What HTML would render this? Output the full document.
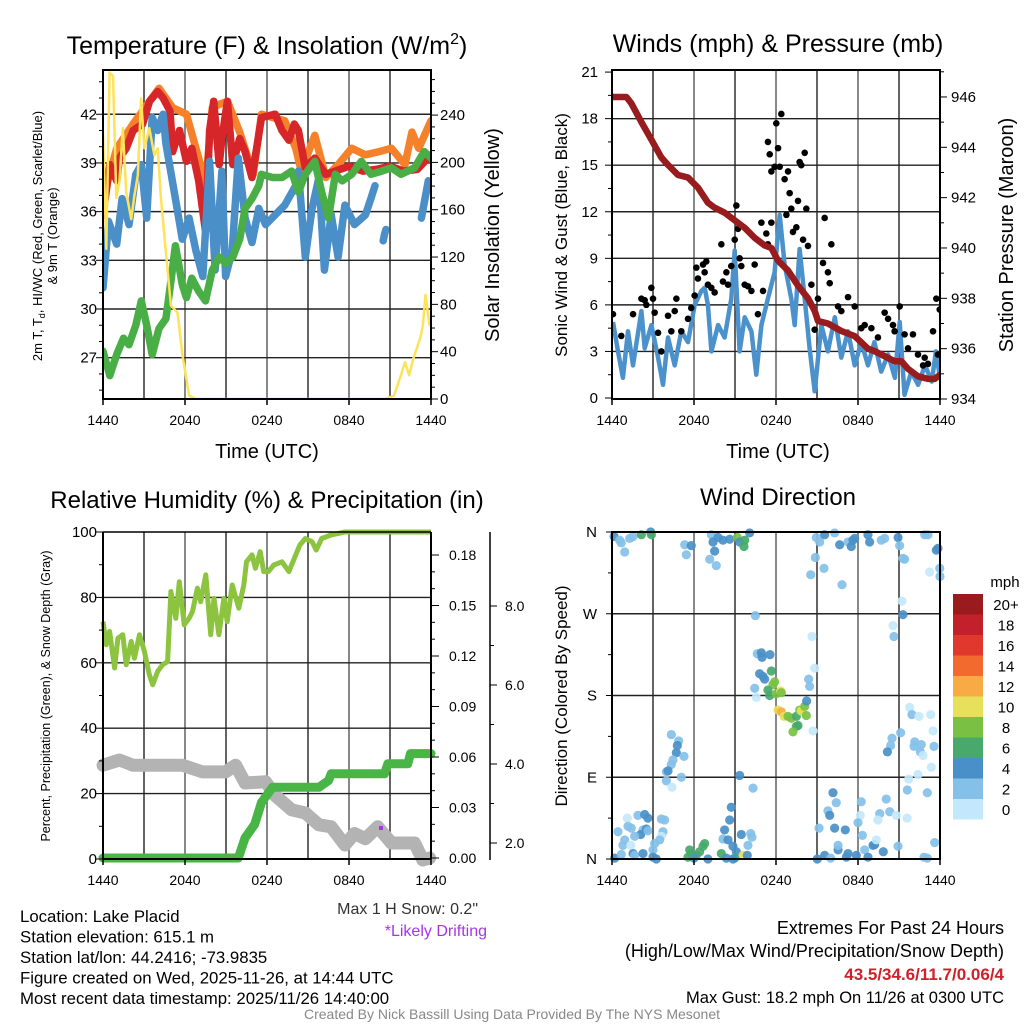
<!DOCTYPE html>
<html><head><meta charset="utf-8">
<style>
html,body{margin:0;padding:0;background:#fff;}
svg{display:block;font-family:"Liberation Sans",Arial,sans-serif;}
</style></head>
<body>
<svg id="chart" width="1024" height="1024" viewBox="0 0 1024 1024" xmlns="http://www.w3.org/2000/svg">
<g id="layer"></g>
</svg>
<script>
// ---------- Panel 1: temperature ----------
const redT=[0,0.5,1,1.2,1.7,2.2,2.9,3.4,4.0,4.4,4.9,5.1,5.6,6.1,6.5,7.0,7.5,7.8,8.1,8.5,8.7,9.1,9.5,10.0,10.4,10.9,11.2,11.6,12.6,13.1,13.6,14.0,14.3,14.8,15.5,16.3,17,18,19,20,21,22,23,24];
const redV=[35.8,38.9,37.9,39.3,39.9,41,41.4,42.8,43.4,43,42.2,39.7,41,39.1,39.9,37.9,34.8,41,42.8,38.9,40.5,42.8,38.9,40.5,39.7,38.1,39.7,41.8,42,41,40.4,41.4,41,38.7,39.3,38.3,38.5,38.8,38.5,38.6,38.8,38.5,38.6,39.5];
const orangeT=[0,1,2.2,4.1,5.1,6.1,7.0,7.5,8.0,8.5,9.1,10.0,11.0,11.6,12.4,13.3,14.1,14.5,15.5,16.3,17.2,18.2,19.2,20.2,21.1,22.1,22.6,23.1,24];
const orangeV=[36.8,39.9,41.4,43.6,42.4,42,39.3,37.6,42.4,42.6,42.8,40.9,38.3,42,41.8,41.6,39.9,38.5,40.7,38.1,38.9,39.9,39.5,39.7,39.9,38.9,40.9,39.9,41.6];
const blueT=[0,0.4,1,1.4,1.9,2.4,2.8,3.2,3.6,4.0,4.4,4.6,5.3,5.8,6.3,6.8,7.3,7.8,8.2,8.7,8.97,9.45,9.9,10.4,10.9,11.4,11.9,12.6,13.3,14.1,14.3,14.8,15.3,15.8,16.2,16.7,17.2,17.7,18.4,19.2,19.6,19.9,20.0,20.5,20.6,20.7,23.2,23.3,23.8];
const blueV=[31.3,35.4,34,36.8,35.2,38.3,38.9,35.6,41.8,41,42,40.2,36.8,34.3,35.6,33.6,32,39.1,32.4,38.5,32,33.6,39.3,35.6,34.1,36.2,35.2,35.8,36.4,37.6,38.5,33.2,36.2,38.1,32.4,35.8,33.2,36.4,35.2,35.8,36.8,37.6,null,34.2,34.6,34.9,null,35.6,37.9];
const greenT=[0,0.5,1,1.5,1.9,2.4,2.8,3.2,3.6,4.1,4.6,5,5.3,5.8,6.1,6.5,7.0,7.5,8.0,8.5,9.0,9.5,10.0,10.4,10.9,11.4,11.6,12.4,13.1,13.8,14.3,14.8,15.5,16,16.5,17,17.5,18.2,18.9,19.6,20.4,21.1,21.8,22.8,23.5,24];
const greenV=[27.4,25.9,27.2,28.2,27.8,29,30.5,29,27.2,28.8,29.4,31.9,33.9,31.5,30.7,31.9,31.1,30.5,32.4,33.2,32.8,33.2,34.3,36.2,36.8,37.6,38.3,38.1,38.1,38.5,37.2,38.3,39.1,37.2,35.6,38.3,37.9,38.3,39.1,38.3,38.5,38.7,38.3,38.7,39.7,39.3];
const solarT=[0,0.24,0.48,0.73,0.97,1.21,1.45,1.7,2.06,2.3,2.55,2.79,3.03,3.39,3.76,4.0,4.24,4.6,4.97,5.45,5.82,6.3,6.8,20.6,21.3,21.8,22.1,22.4,22.7,23.2,23.4,23.6,23.9];
const solarV=[226,127,276,273,170,184,229,175,152,172,189,254,212,229,206,212,170,124,79,73,37,3,0,0,3,20,31,20,34,51,62,88,62];
const tempTicks=[27,30,33,36,39,42];
const solarTicks=[0,40,80,120,160,200,240];
const timeLabels=["1440","2040","0240","0840","1440"];
// ---------- Panel 2: winds ----------
const windT=[0.07,0.44,0.8,1.17,1.54,2.15,2.39,2.88,3.37,3.73,4.1,4.59,5.07,5.56,6.05,6.54,6.78,7.02,7.27,7.76,8.24,8.73,8.98,9.34,9.71,10.2,10.56,10.93,11.41,11.9,12.27,12.63,13.12,13.37,13.73,14.1,14.46,14.83,15.32,15.8,16.3,16.78,17.27,17.76,18.24,18.73,19.2,19.7,20.2,20.7,21.05,21.4,21.9,22.4,22.9,23.4,23.7,24];
const windV=[4.9,3.0,1.3,4.3,2.1,5.6,3.2,4.7,2.6,0.85,3.9,2.1,4.3,3.6,6.0,6.9,7.1,6.0,3.0,4.7,3.9,6.4,9.5,3.0,5.2,4.3,1.5,4.7,6.4,8.1,11.8,8.6,6.4,4.7,9.6,6.4,3.2,0.43,4.7,3.0,5.2,2.6,4.3,2.1,3.6,2.1,3.6,1.7,2.8,1.3,4.9,0.2,1.7,0.85,2.1,1.06,3.0,1.3];
const gustT=[0.07,0.68,1.54,2.15,2.39,2.51,2.88,3.0,3.12,3.37,3.61,4.1,4.34,4.59,4.71,5.07,5.56,5.8,6.05,6.17,6.29,6.66,6.78,6.9,7.02,7.27,7.51,8.0,8.12,8.37,8.49,8.73,8.98,9.1,9.22,9.34,9.46,9.71,9.95,10.2,10.44,10.68,10.93,11.05,11.29,11.41,11.66,11.9,12.02,12.15,12.27,12.39,11.41,11.54,11.66,12.63,12.76,12.88,13.0,13.12,13.24,13.49,13.61,13.73,13.85,14.1,14.22,14.34,13.98,14.59,14.83,15.07,15.44,15.56,15.8,15.93,16.05,16.54,16.78,17.27,17.76,18.24,18.49,18.98,19.46,19.95,20.2,20.56,20.68,21.05,21.41,21.66,22.02,22.39,22.88,23.12,23.49,23.73,23.98,23.85,22.76];
const gustV=[5.4,4.0,5.4,6.4,6.3,6.0,7.1,6.4,5.5,4.2,3.0,5.3,4.3,5.6,6.4,4.3,5.1,5.8,6.6,8.4,7.7,8.6,8.1,8.8,7.3,7.1,6.8,9.9,7.5,8.1,7.3,8.5,10.2,12.4,10.9,9.0,8.5,7.3,7.2,6.9,8.6,5.4,11.3,6.9,10.6,9.9,11.3,14.9,17.7,16.1,14.9,18.3,16.5,15.7,14.6,14.1,11.8,14.6,13.2,12.2,10.7,11.0,12.7,15.2,15.0,15.8,12.2,9.8,10.2,7.3,4.4,6.4,8.7,11.6,8.1,7.4,9.9,5.9,5.6,6.5,5.9,4.5,4.7,4.5,3.9,5.5,5.1,4.7,4.3,5.9,4.1,3.2,4.1,2.8,2.6,2.2,4.3,6.4,5.7,2.8,2.1];
const presT=[0,1.05,1.41,2.15,2.88,3.61,4.1,4.83,5.56,6.29,7.02,7.51,8.24,8.98,9.71,10.44,11.17,11.66,12.15,12.88,13.61,14.34,14.83,15.07,15.8,16.78,17.76,18.73,19.22,19.95,20.68,21.17,21.66,22.39,23.12,23.61,23.98];
const presV=[946.0,946.0,945.75,945.0,944.3,943.6,943.3,942.9,942.8,942.4,941.8,941.6,941.4,941.1,940.8,940.4,940.1,940.0,939.5,939.1,938.5,938.0,937.5,937.1,937.0,936.7,936.5,936.0,935.9,935.7,935.5,935.5,935.2,934.9,934.8,934.8,934.95];
const windTicks=[0,3,6,9,12,15,18,21];
const presTicks=[934,936,938,940,942,944,946];
// ---------- Panel 3: RH / precip / snow ----------
const rhT=[0,0.24,0.48,0.85,1.09,1.45,1.7,2.06,2.3,2.67,3.03,3.39,3.64,4.0,4.36,4.73,4.97,5.33,5.58,5.94,6.3,6.55,6.91,7.15,7.52,7.88,8.12,8.48,8.85,9.09,9.45,9.94,10.3,10.5,10.9,11.15,11.5,11.76,12.1,12.5,13.1,13.6,14.1,14.4,14.8,15.3,15.6,16.0,16.7,17.7,24];
const rhV=[72.6,65.5,69.6,58.4,67.5,68.6,59.4,66.5,61.4,68.6,63.5,56.4,53.3,57.4,59.4,60.4,81.8,73.6,84.8,71.6,73.6,75.7,82.8,78.7,86.9,68.6,79.7,68.6,79.7,72.6,83.8,76.7,83.8,90.9,93.0,88.9,94.0,87.9,87.9,89.9,90.9,87.9,93.0,96.0,98.0,97.0,94.5,98.0,99.1,100,100];
const precipT=[0,9.9,10.4,11.1,11.6,12.4,15.8,16.5,16.7,20.6,20.85,22.3,22.5,24];
const precipV=[0,0,0.012,0.02,0.033,0.042,0.042,0.046,0.05,0.05,0.056,0.056,0.062,0.062];
const snowT=[0,1.21,2.18,5.82,7.27,8.97,9.7,10.4,11.9,12.6,13.8,14.8,15.8,16.7,17.7,18.4,19.2,20.1,21.1,22.8,23.4,23.9];
const snowV=[3.97,4.1,3.97,3.97,3.8,3.8,3.97,3.52,3.55,3.2,2.84,2.76,2.46,2.41,1.95,2.24,2.11,2.41,2.0,2.0,1.57,1.62];
const rhTicks=[0,20,40,60,80,100];
const precipTicks=[0,0.03,0.06,0.09,0.12,0.15,0.18];
const snowTicks=[2,4,6,8];
// ---------- Panel 4: wind direction ----------
const dirT=[0.15,0.56,0.68,0.93,1.29,1.54,2.15,2.83,2.88,5.32,5.44,5.8,7.27,7.39,7.76,8.12,7.51,7.15,7.63,8.61,9.17,9.34,9.71,9.66,10.07,14.95,15.2,15.56,16.29,16.66,17.27,17.51,17.76,17.63,18.73,18.85,19.7,19.95,20.93,21.05,22.88,23.12,23.73,23.85,23.98,24,23.24,21.41,21.29,14.88,15.51,14.54,16.83,21.22,21.29,10.49,14.63,14.83,20.56,20.63,10.63,10.93,10.98,11.56,10.8,11.05,11.17,11.66,11.9,11.78,10.44,10.56,11.41,11.54,12.02,12.34,12.39,14.39,14.46,12.15,12.39,12.59,12.88,13.12,13.49,13.73,13.85,14.1,14.22,14.24,13.61,13.49,13.24,14.71,4.34,4.88,4.78,4.71,5.27,4.46,4.34,3.98,4.1,5.07,3.98,4.39,21.12,20.49,20.39,20.15,21.78,21.95,22.46,23.32,22.15,22.1,22.63,22.56,22.76,23.49,23.56,23.37,22.39,21.71,21.61,9.34,10.32,16.17,16.41,15.8,15.93,16.29,17.07,15.15,18.24,18.17,18.0,18.32,20.07,20.32,19.59,19.46,20.8,21.59,23.07,23.61,20.93,19.22,19.1,19.34,19.85,18.49,17.88,17.27,17.15,16.54,15.56,15.02,16.0,18.73,22.83,23.07,16.54,1.12,1.9,2.39,2.63,1.17,1.41,2.27,2.51,2.1,1.66,2.63,3.61,3.85,3.73,3.61,3.49,3.12,3.0,0.93,0.8,1.37,0.44,0.2,0.68,1.54,1.66,2.27,3.0,3.24,8.73,8.61,8.24,8.12,8.49,9.46,10.15,10.24,9.95,8.85,9.1,9.59,9.9,8.0,7.02,6.78,6.66,6.41,6.17,5.8,5.68,6.0,5.56,8.37,8.98,8.85];
const dirV=[355,351,348,338,353,355,357,360,357,346,335,345,357,349,354,351,339,330,323,352,354,349,351,344,359,354,349,357,359,346,349,344,353,351,357,349,351,353,354,345,357,357,340,342,320,311,316,330,331,332,320,313,302,284,269,268,245,210,257,245,226,227,222,225,204,201,198,207,195,192,188,178,186,180,182,185,183,198,190,164,162,157,157,155,157,164,163,168,158,174,147,146,140,141,137,130,125,117,113,109,104,96,97,90,86,79,139,133,125,118,167,159,157,159,129,124,126,118,114,141,124,101,93,88,76,92,78,73,62,53,48,34,32,34,63,48,40,26,66,52,50,43,48,45,73,18,14,16,15,21,8,10,4,6,2,10,4,0,1,2,2,1,15,45,48,49,45,36,34,32,33,27,25,31,44,43,30,25,21,17,10,21,15,15,30,1,5,6,4,6,2,0,57,43,32,22,21,27,28,24,15,14,8,4,4,6,0,17,14,8,4,6,10,1,2,1,1,0];
const dirS=[5,3,3,3,3,3,7,5,7,3,3,5,3,5,5,5,5,3,3,5,9,5,7,7,5,3,3,5,3,5,3,5,5,5,5,5,3,3,5,3,3,3,5,5,3,3,1,3,3,3,3,3,3,1,5,3,1,1,1,3,3,5,5,5,5,5,5,7,9,9,3,1,7,7,9,11,9,3,3,11,13,11,9,9,7,9,11,9,9,5,7,7,9,1,3,3,5,5,3,3,3,3,5,3,3,1,3,3,3,5,1,3,1,1,3,3,3,3,1,1,3,1,1,1,3,5,3,5,3,3,5,5,5,3,3,1,3,3,3,3,3,1,1,1,3,3,3,5,5,1,5,3,5,5,5,5,5,5,3,5,3,3,3,1,3,5,5,3,3,3,5,5,3,3,3,3,3,1,3,3,3,3,3,1,3,5,3,5,3,5,5,5,5,5,5,3,5,5,3,3,3,5,5,11,5,7,5,7,7,7,7,7,7,5,7,5,7,5,5];
const dirLabels=["N","E","S","W","N"];
const cbLabels=["20+","18","16","14","12","10","8","6","4","2","0"];
const cbColors=["#9a1a1e","#c2202a","#e0382c","#f26a2e","#f8ab45","#e6e05a","#7ac143","#47a96c","#4a90c8","#84c0e8","#c4e8fb"];

const NS="http://www.w3.org/2000/svg";
const root=document.getElementById('layer');
function el(tag,attrs,parent,txt){const e=document.createElementNS(NS,tag);for(const k in attrs)e.setAttribute(k,attrs[k]);if(txt!==undefined)e.textContent=txt;(parent||root).appendChild(e);return e;}
function grp(name){const g=el('g',{},root);return g;}
function pathFrom(ts,vs,fx,fy){let d='',pen=false;for(let i=0;i<ts.length;i++){if(vs[i]===null){pen=false;continue;}d+=(pen?'L':'M')+fx(ts[i]).toFixed(1)+','+fy(vs[i]).toFixed(1);pen=true;}return d;}
function txt(parent,x,y,s,opts){const a=Object.assign({x:x,y:y,'font-size':14,fill:'#000'},opts||{});return el('text',a,parent,s);}

const W=328;
function xAxis(x0){return t=>x0+t*W/24;}
function frameAndGrid(g,x0,y0,y1,hY){
  for(let i=1;i<8;i++){el('line',{x1:x0+i*W/8,y1:y0,x2:x0+i*W/8,y2:y1,stroke:(i%2?'#222':'#555'),'stroke-width':1.4},g);}
  hY.forEach(y=>el('line',{x1:x0,y1:y,x2:x0+W,y2:y,stroke:'#222','stroke-width':1.4},g));
}
function frame(g,x0,y0,y1){el('rect',{x:x0,y:y0,width:W,height:y1-y0,fill:'none',stroke:'#000','stroke-width':2},g);}
function timeTicks(g,x0,yb){const fx=xAxis(x0);timeLabels.forEach((s,i)=>{const x=fx(i*6);el('line',{x1:x,y1:yb,x2:x,y2:yb+6,stroke:'#000','stroke-width':1.5},g);const t=txt(g,x,yb+26,s,{'text-anchor':'middle'});});}

// ===== Panel 1 =====
(function(){
  const x0=103,y0=70,y1=399;const fx=xAxis(x0);
  const fy=v=>357.7-(v-27)*16.23;const fs=s=>399-s*1.183;
  const g=grp('temperature-panel');
  el('text',{x:267,y:54,'font-size':25,'text-anchor':'middle'},g,'Temperature (F) & Insolation (W/m');
  const sup=g.lastChild;el('tspan',{'font-size':16,dy:-10},sup,'2');el('tspan',{dy:10},sup,')');
  frameAndGrid(g,x0,y0,y1,tempTicks.map(fy));
  const clip=el('clipPath',{id:'c1'},g);el('rect',{x:x0,y:y0,width:W,height:y1-y0},clip);
  const s=el('g',{'clip-path':'url(#c1)'},g);
  const series=[[orangeT,orangeV,'#f5812b','nine-meter-temp-line'],[redT,redV,'#d62629','temperature-line'],[blueT,blueV,'#4a8fc8','windchill-line'],[greenT,greenV,'#4aae47','dewpoint-line']];
  series.forEach(a=>{const p=el('path',{d:pathFrom(a[0],a[1],fx,fy),fill:'none',stroke:a[2],'stroke-width':7.5,'stroke-linejoin':'round','stroke-linecap':'round'},s);});
  const ps=el('path',{d:pathFrom(solarT,solarV,fx,fs),fill:'none',stroke:'#fde35a','stroke-width':2.5,'stroke-linejoin':'round'},s);
  
  
  frame(g,x0,y0,y1);
  for(let v=25;v<=44;v++){const y=fy(v);el('line',{x1:x0,y1:y,x2:x0-(v%3===0?7:4),y2:y,stroke:'#000','stroke-width':1},g);}
  tempTicks.forEach(v=>{const t=txt(g,97,fy(v)+5,String(v),{'text-anchor':'end','font-size':15});});
  for(let v=0;v<=270;v+=10){const y=fs(v);el('line',{x1:x0+W,y1:y,x2:x0+W+(v%40===0?7:4),y2:y,stroke:'#000','stroke-width':1},g);}
  solarTicks.forEach(v=>{const t=txt(g,440,fs(v)+5,String(v),{'font-size':15});});
  timeTicks(g,x0,y1);
  const xl=txt(g,267,458,'Time (UTC)',{'text-anchor':'middle','font-size':20});
  const yl=el('text',{transform:'translate(42,236) rotate(-90)','text-anchor':'middle','font-size':13},g,'2m T, T');
  el('tspan',{'font-size':9,dy:3},yl,'d');el('tspan',{dy:-3},yl,', HI/WC (Red, Green, Scarlet/Blue)');
  el('text',{transform:'translate(57,236) rotate(-90)','text-anchor':'middle','font-size':13},g,'& 9m T (Orange)');
  const yr=el('text',{transform:'translate(499,235) rotate(-90)','text-anchor':'middle','font-size':20},g,'Solar Insolation (Yellow)');
})();

// ===== Panel 2 =====
(function(){
  const x0=612,y0=70,y1=399;const fx=xAxis(x0);
  const fy=v=>398-v*15.52;const fp=p=>399-(p-934)*25.17;
  const g=grp('winds-panel');
  txt(g,778,52,'Winds (mph) & Pressure (mb)',{'text-anchor':'middle','font-size':25});
  frameAndGrid(g,x0,y0,y1,windTicks.slice(1,-1).map(fy));
  const clip=el('clipPath',{id:'c2'},g);el('rect',{x:x0,y:y0,width:W,height:y1-y0},clip);
  const s=el('g',{'clip-path':'url(#c2)'},g);
  const pw=el('path',{d:pathFrom(windT,windV,fx,fy),fill:'none',stroke:'#4b92cc','stroke-width':4.5,'stroke-linejoin':'round'},s);
  
  
  gustT.forEach((t,i)=>{const c=el('circle',{cx:fx(t),cy:fy(gustV[i]),r:3.3,fill:'#000'},s);
    
    });
  const pp=el('path',{d:pathFrom(presT,presV,fx,fp),fill:'none',stroke:'#981b1e','stroke-width':6.5,'stroke-linejoin':'round','stroke-linecap':'round'},s);
  
  
  frame(g,x0,y0,y1);
  for(let v=0;v<=21;v+=1.5){const y=fy(v);el('line',{x1:x0,y1:y,x2:x0-(v%3===0?7:4),y2:y,stroke:'#000','stroke-width':1},g);}
  windTicks.forEach(v=>{const t=txt(g,598,fy(v)+5,String(v),{'text-anchor':'end','font-size':15});});
  for(let p=934;p<=947;p++){const y=fp(p);el('line',{x1:x0+W,y1:y,x2:x0+W+(p%2===0?7:4),y2:y,stroke:'#000','stroke-width':1},g);}
  presTicks.forEach(v=>{const t=txt(g,951,fp(v)+5,String(v),{'font-size':15});});
  timeTicks(g,x0,y1);
  txt(g,778,458,'Time (UTC)',{'text-anchor':'middle','font-size':20});
  el('text',{transform:'translate(567,235) rotate(-90)','text-anchor':'middle','font-size':17},g,'Sonic Wind & Gust (Blue, Black)');
  el('text',{transform:'translate(1013,235) rotate(-90)','text-anchor':'middle','font-size':20},g,'Station Pressure (Maroon)');
})();

// ===== Panel 3 =====
(function(){
  const x0=103,y0=532,y1=859;const fx=xAxis(x0);
  const fy=v=>859-v*3.27;const fpr=p=>858-p*1683.3;const fsn=s=>843-(s-2)*39.5;
  const g=grp('humidity-panel');
  txt(g,267,508,'Relative Humidity (%) & Precipitation (in)',{'text-anchor':'middle','font-size':24});
  frameAndGrid(g,x0,y0,y1,rhTicks.slice(1,-1).map(fy));
  const clip=el('clipPath',{id:'c3'},g);el('rect',{x:x0-8,y:y0-4,width:W+16,height:y1-y0+14},clip);
  const s=el('g',{'clip-path':'url(#c3)'},g);
  const pr=el('path',{d:pathFrom(rhT,rhV,fx,fy),fill:'none',stroke:'#8cc43f','stroke-width':5,'stroke-linejoin':'round'},s);
  
  
  const psn=el('path',{d:pathFrom(snowT,snowV,fx,fsn),fill:'none',stroke:'#b3b3b3','stroke-width':13,'stroke-linejoin':'round','stroke-linecap':'round'},s);
  
  
  const pp=el('path',{d:pathFrom(precipT,precipV,fx,fpr),fill:'none',stroke:'#48b546','stroke-width':9,'stroke-linejoin':'round','stroke-linecap':'round'},s);
  
  
  const dd=el('rect',{x:379,y:826,width:4,height:4,fill:'#a635e8'},g);
  
  
  el('line',{x1:x0,y1:y0,x2:x0,y2:y1,stroke:'#000','stroke-width':2},g);
  el('line',{x1:x0,y1:y1,x2:x0+W,y2:y1,stroke:'#000','stroke-width':2},g);
  el('line',{x1:x0,y1:y0,x2:x0+W,y2:y0,stroke:'#000','stroke-width':1.5},g);
  el('line',{x1:x0+W,y1:y0,x2:x0+W,y2:y1,stroke:'#000','stroke-width':2},g);
  for(let v=0;v<=100;v+=10){const y=fy(v);el('line',{x1:x0,y1:y,x2:x0-(v%20===0?7:4),y2:y,stroke:'#000','stroke-width':1},g);}
  rhTicks.forEach(v=>{const t=txt(g,97,fy(v)+5,String(v),{'text-anchor':'end','font-size':15});});
  for(let p=0;p<=0.19;p+=0.01){const y=fpr(p);el('line',{x1:x0+W,y1:y,x2:x0+W+(Math.round(p*100)%3===0?8:4),y2:y,stroke:'#000','stroke-width':1},g);}
  precipTicks.forEach(v=>{const t=txt(g,449,fpr(v)+5,v.toFixed(2),{'font-size':14});});
  el('line',{x1:490,y1:532,x2:490,y2:860,stroke:'#000','stroke-width':1.5},g);
  for(let sv=2;sv<=8;sv+=1){const y=fsn(sv);el('line',{x1:490,y1:y,x2:490+(sv%2===0?7:4),y2:y,stroke:'#000','stroke-width':1},g);}
  snowTicks.forEach(v=>{const t=txt(g,505,fsn(v)+5,v.toFixed(1),{'font-size':14});});
  timeTicks(g,x0,y1);
  el('text',{transform:'translate(50,696) rotate(-90)','text-anchor':'middle','font-size':12.5},g,'Percent, Precipitation (Green), & Snow Depth (Gray)');
})();

// ===== Panel 4 =====
(function(){
  const x0=612,y0=532,y1=859;const fx=xAxis(x0);
  const fy=d=>859-d*0.9083;
  const g=grp('wind-direction-panel');
  txt(g,778,505,'Wind Direction',{'text-anchor':'middle','font-size':24});
  frameAndGrid(g,x0,y0,y1,[90,180,270].map(fy));
  const colorFor=s=>cbColors[10-Math.min(10,Math.floor(s/2))];
  dirT.forEach((t,i)=>{const c=el('circle',{cx:fx(t),cy:fy(dirV[i]),r:4.6,fill:colorFor(dirS[i]),'fill-opacity':0.92},g);
    
    });
  frame(g,x0,y0,y1);
  dirLabels.forEach((s,i)=>{const y=fy(i*90);el('line',{x1:x0,y1:y,x2:x0-6,y2:y,stroke:'#000','stroke-width':1},g);const t=txt(g,597,y+5,s,{'text-anchor':'end','font-size':15});});
  for(let d=45;d<360;d+=90){const y=fy(d);el('line',{x1:x0,y1:y,x2:x0-4,y2:y,stroke:'#000','stroke-width':1},g);}
  timeTicks(g,x0,y1);
  el('text',{transform:'translate(567,696) rotate(-90)','text-anchor':'middle','font-size':17},g,'Direction (Colored By Speed)');
  const cb=grp('speed-colorbar');
  txt(cb,1005,587,'mph',{'text-anchor':'middle','font-size':15});
  cbColors.forEach((c,i)=>{const r=el('rect',{x:953,y:594+i*20.5,width:30,height:20.5,fill:c},cb);
    
    
    txt(cb,1006,594+i*20.5+16,cbLabels[i],{'text-anchor':'middle','font-size':15});});
})();

// ===== Footer text =====
(function(){
  const g=grp('station-info');
  const lines=["Location: Lake Placid","Station elevation: 615.1 m","Station lat/lon: 44.2416; -73.9835","Figure created on Wed, 2025-11-26, at 14:44 UTC","Most recent data timestamp: 2025/11/26 14:40:00"];
  lines.forEach((s,i)=>txt(g,20,922+i*20.5,s,{'font-size':16.8}));
  txt(g,478,914,'Max 1 H Snow: 0.2"',{'text-anchor':'end','font-size':16,fill:'#333'});
  txt(g,487,936,'*Likely Drifting',{'text-anchor':'end','font-size':16,fill:'#a635e8'});
  const r=grp('extremes-info');
  txt(r,1004,934,'Extremes For Past 24 Hours',{'text-anchor':'end','font-size':18});
  txt(r,1004,957,'(High/Low/Max Wind/Precipitation/Snow Depth)',{'text-anchor':'end','font-size':18});
  txt(r,1004,980,'43.5/34.6/11.7/0.06/4',{'text-anchor':'end','font-size':17,fill:'#d0202a','font-weight':'bold'});
  txt(r,1004,1003,'Max Gust: 18.2 mph On 11/26 at 0300 UTC',{'text-anchor':'end','font-size':16.5});
  txt(root,512,1019,'Created By Nick Bassill Using Data Provided By The NYS Mesonet',{'text-anchor':'middle','font-size':14,fill:'#888'});
})();
</script>
</body></html>
